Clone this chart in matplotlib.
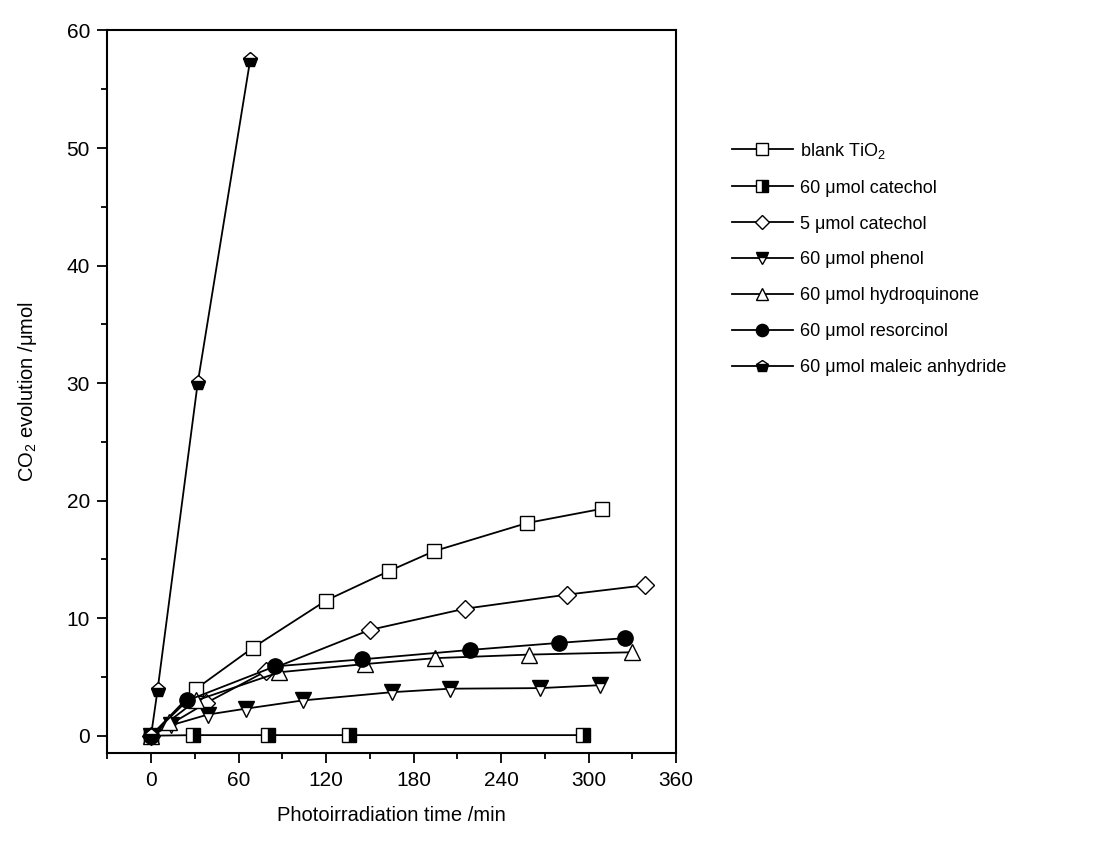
import numpy as np
import matplotlib
matplotlib.use('Agg')
from matplotlib import pyplot as plt
from matplotlib.ticker import MultipleLocator

plt.rcParams['font.family'] = ['Liberation Sans', 'DejaVu Sans']
plt.rcParams['mathtext.fontset'] = 'custom'
plt.rcParams['mathtext.rm'] = 'Liberation Sans'
plt.rcParams['mathtext.default'] = 'regular'

# data (time in min, CO2 in umol)
blank_t = [0, 31, 70, 120, 163, 194, 258, 309]
blank_y = [0, 4.0, 7.5, 11.5, 14.0, 15.7, 18.1, 19.3]

cat60_t = [0, 29, 80, 136, 296]
cat60_y = [0, 0.05, 0.05, 0.05, 0.05]

cat5_t = [0, 38, 79, 150, 215, 285, 339]
cat5_y = [0, 2.8, 5.5, 9.0, 10.8, 12.0, 12.8]

phenol_t = [0, 14, 39, 65, 104, 165, 205, 267, 308]
phenol_y = [0, 0.9, 1.8, 2.3, 3.0, 3.7, 4.0, 4.05, 4.3]

hq_t = [0, 12, 31, 88, 147, 195, 259, 330]
hq_y = [0, 1.2, 3.0, 5.4, 6.1, 6.6, 6.9, 7.1]

res_t = [0, 25, 85, 145, 219, 280, 325]
res_y = [0, 3.0, 5.9, 6.5, 7.3, 7.9, 8.3]

mal_t = [0, 4.5, 32, 68]
mal_y = [0, 3.9, 30.0, 57.5]

labels = ['blank TiO$_2$', '60 \u03bcmol catechol', '5 \u03bcmol catechol',
          '60 \u03bcmol phenol', '60 \u03bcmol hydroquinone',
          '60 \u03bcmol resorcinol', '60 \u03bcmol maleic anhydride']

fig = plt.figure(figsize=(11.07, 8.42), dpi=100)
ax = fig.add_axes([0.0969, 0.1053, 0.5138, 0.8585])

lw = 1.3
common = dict(color='black', lw=lw, mec='black', mew=1.0)
ax.plot(blank_t, blank_y, marker='s', ms=10, mfc='white', label=labels[0], **common)
ax.plot(cat60_t, cat60_y, marker='s', ms=10, mfc='black', mfcalt='white',
        fillstyle='right', label=labels[1], **common)
ax.plot(cat5_t, cat5_y, marker='D', ms=9, mfc='white', label=labels[2], **common)
ax.plot(phenol_t, phenol_y, marker='v', ms=11, mfc='black', mfcalt='white',
        fillstyle='top', label=labels[3], **common)
ax.plot(hq_t, hq_y, marker='^', ms=11, mfc='white', label=labels[4], **common)
ax.plot(res_t, res_y, marker='o', ms=11, mfc='black', label=labels[5], **common)
ax.plot(mal_t, mal_y, marker='p', ms=11, mfc='black', mfcalt='white',
        fillstyle='bottom', label=labels[6], **common)

ax.set_xlim(-30, 360)
ax.set_ylim(-1.5, 60)
ax.xaxis.set_major_locator(MultipleLocator(60))
ax.xaxis.set_minor_locator(MultipleLocator(30))
ax.yaxis.set_major_locator(MultipleLocator(10))
ax.yaxis.set_minor_locator(MultipleLocator(5))
ax.tick_params(which='major', direction='out', length=7.5, width=1.3, labelsize=15, pad=5)
ax.tick_params(which='minor', direction='out', length=4, width=1.3)
for s in ax.spines.values():
    s.set_linewidth(1.5)

ax.set_xlabel('Photoirradiation time /min', fontsize=14.5, labelpad=12)
ax.set_ylabel('CO$_2$ evolution /\u03bcmol', fontsize=14.5, labelpad=20)

fig.legend(loc='upper left', bbox_to_anchor=(0.661, 0.833), frameon=False,
           fontsize=13, markerscale=0.8, handlelength=3.4, handletextpad=0.4,
           labelspacing=1.05, borderaxespad=0, borderpad=0)

plt.savefig('out.png', dpi=100)
